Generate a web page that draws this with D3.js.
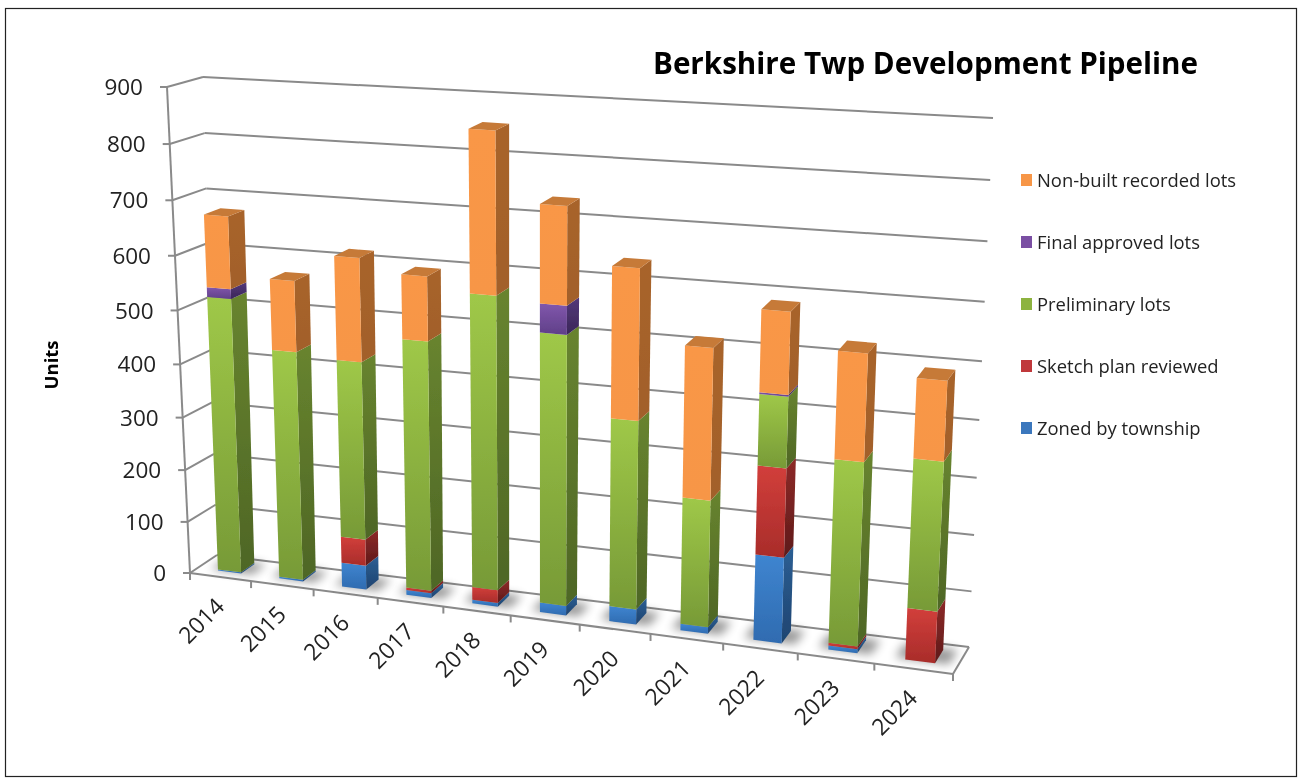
<!DOCTYPE html>
<html>
<head>
<meta charset="utf-8">
<script src="https://cdn.jsdelivr.net/npm/d3@7"></script>
<style>
  html, body { margin: 0; padding: 0; background: #fff; }
  svg { display: block; }
  text { font-family: "Open Sans", sans-serif; fill: #222; }
</style>
</head>
<body>
<svg id="chart" width="1299" height="779"></svg>
<script>
//chart data
const years = ["2014","2015","2016","2017","2018","2019","2020","2021","2022","2023","2024"];
const zoned = [2, 3, 46, 9, 7, 18, 28, 12, 155, 7, 0];
const sketch = [0, 0, 50, 5, 24, 0, 0, 0, 158, 5, 92];
const prelim = [519, 431, 331, 462, 537, 492, 342, 230, 125, 326, 261];
const finalLots = [18, 0, 0, 0, 0, 51, 0, 0, 3, 0, 0];
const nonBuilt = [132, 130, 188, 116, 285, 172, 266, 268, 142, 186, 137];
const seriesNames = ["Zoned by township", "Sketch plan reviewed", "Preliminary lots", "Final approved lots", "Non-built recorded lots"];
const valueTicks = [0, 100, 200, 300, 400, 500, 600, 700, 800, 900];

const rows = years.map((y, i) => ({
    year: y,
    [seriesNames[0]]: zoned[i],
    [seriesNames[1]]: sketch[i],
    [seriesNames[2]]: prelim[i],
    [seriesNames[3]]: finalLots[i],
    [seriesNames[4]]: nonBuilt[i]
}));

//face colours per series: front top, front bottom, side top, side bottom
const faceColors = {
    "Zoned by township": ["#3F85D0", "#2F6BB0", "#2C5F94", "#1E4470"],
    "Sketch plan reviewed": ["#D23F3B", "#A82C2A", "#8E2A28", "#5E1A1A"],
    "Preliminary lots": ["#9FC848", "#779A37", "#68842F", "#4E6625"],
    "Final approved lots": ["#8157AC", "#5F3F88", "#54397A", "#3A2659"],
    "Non-built recorded lots": ["#F99747", "#F79646", "#A8642B", "#A2602A"]
};
const swatchColors = ["#F79646", "#7A4FA3", "#8DB33F", "#C0393B", "#3A77BD"];

//the box of the 3D plot on screen: f = front, b = back, l/r = left/right, d/u = floor/top
const box = {
    fld: [190, 573], frd: [953, 674], bld: [217, 555], brd: [969, 647],
    flu: [167, 87], fru: [978, 136], blu: [203, 77], bru: [993, 118]
};
const wx = 0.87, wy = 0.94;   //perspective pull along the width and the height

//x and value go through d3 scales into 0..1, then the box turns them into pixels
const x = d3.scaleBand().domain(years).range([0.0022, 1.0022]).paddingInner(0.62).paddingOuter(0.31);
const xStep = d3.scaleLinear().domain([0, years.length]).range([0, 1]);
const y = d3.scaleLinear().domain([0, 900]).range([0, 1]);
const zFront = 0.29, zBack = 0.79;

function mix(a, b, t) { return [a[0] + (b[0] - a[0]) * t, a[1] + (b[1] - a[1]) * t]; }
function project(px, py, pz) {
    const fx = px * wx / (1 + px * (wx - 1));
    const fy = py * wy / (1 + py * (wy - 1));
    const down = mix(mix(box.fld, box.frd, fx), mix(box.bld, box.brd, fx), pz);
    const up = mix(mix(box.flu, box.fru, fx), mix(box.blu, box.bru, fx), pz);
    return mix(down, up, fy);
}

const svg = d3.select("#chart");
const defs = svg.append("defs");
defs.append("filter").attr("id", "soft").attr("x", "-5%").attr("y", "-5%").attr("width", "110%").attr("height", "110%")
    .append("feGaussianBlur").attr("stdDeviation", 0.45);
defs.append("filter").attr("id", "shadow").attr("x", "-50%").attr("y", "-100%").attr("width", "200%").attr("height", "300%")
    .append("feGaussianBlur").attr("stdDeviation", 5);

function addGradient(id, top, bottom) {
    const g = defs.append("linearGradient").attr("id", id).attr("x1", 0).attr("y1", 0).attr("x2", 0).attr("y2", 1);
    g.append("stop").attr("offset", 0).attr("stop-color", top);
    g.append("stop").attr("offset", 1).attr("stop-color", bottom);
}
seriesNames.forEach((name, i) => {
    const c = faceColors[name];
    addGradient("front" + i, c[0], c[1]);
    addGradient("side" + i, c[2], c[3]);
});

//outer frame
svg.append("rect")
    .attr("x", 5.5).attr("y", 8.5).attr("width", 1291).attr("height", 768)
    .attr("fill", "#fff").attr("stroke", "#222").attr("stroke-width", 1.2);

const plot = svg.append("g").attr("filter", "url(#soft)");
const path = pts => "M" + pts.map(p => p.join(",")).join("L") + "Z";
const gridColor = "#8a8a8a";

function segment(a, b) {
    plot.append("line")
        .attr("x1", a[0]).attr("y1", a[1]).attr("x2", b[0]).attr("y2", b[1])
        .attr("stroke", gridColor).attr("stroke-width", 2);
}

//gridlines on side wall and back wall, with value labels
valueTicks.forEach(v => {
    const a = project(0, y(v), 0), b = project(0, y(v), 1), c = project(1, y(v), 1);
    segment(a, b);
    segment(b, c);
    segment([a[0] - 7, a[1]], a);
    plot.append("text")
        .attr("x", a[0] - 24 + 0).attr("y", a[1])
        .attr("text-anchor", "end").attr("dy", "0.36em")
        .style("font-size", "22.5px")
        .text(v);
});

//value axis, floor edges
segment(project(0, 0, 0), project(0, 1, 0));
segment(project(0, 0, 0), project(1, 0, 0));
segment(project(1, 0, 0), project(1, 0, 1));

//category ticks and rotated labels
d3.range(years.length + 1).forEach(i => {
    const a = project(xStep(i), 0, 0);
    segment(a, [a[0], a[1] + 7]);
});
years.forEach((yr, i) => {
    const a = project(xStep(i + 0.5), 0, 0);
    plot.append("text")
        .attr("transform", `translate(${a[0] - 0.5},${a[1] + 25}) rotate(-45)`)
        .attr("text-anchor", "end").attr("dy", "0.36em")
        .style("font-size", "23px")
        .text(yr);
});

//soft shadows under the bars
years.forEach(yr => {
    const x0 = x(yr), x1 = x0 + x.bandwidth();
    plot.append("path")
        .attr("d", path([project(x0 - 0.012, 0, zFront + 0.02), project(x1 + 0.016, 0, zFront + 0.02), project(x1 + 0.016, 0, zBack + 0.06), project(x0 - 0.012, 0, zBack + 0.06)]))
        .attr("fill", "#000").attr("opacity", 0.4).attr("filter", "url(#shadow)");
});

//stacked bars
const stacked = d3.stack().keys(seriesNames)(rows);
years.forEach((yr, r) => {
    const x0 = x(yr), x1 = x0 + x.bandwidth();
    let last = null;
    stacked.forEach((layer, s) => {
        const y0 = y(layer[r][0]), y1 = y(layer[r][1]);
        if (y1 <= y0) return;
        last = { s, y1 };
        plot.append("path")
            .attr("d", path([project(x1, y0, zFront), project(x1, y0, zBack), project(x1, y1, zBack), project(x1, y1, zFront)]))
            .attr("fill", `url(#side${s})`);
        plot.append("path")
            .attr("d", path([project(x0, y0, zFront), project(x1, y0, zFront), project(x1, y1, zFront), project(x0, y1, zFront)]))
            .attr("fill", `url(#front${s})`);
    });
    plot.append("path")
        .attr("d", path([project(x0, last.y1, zFront), project(x1, last.y1, zFront), project(x1, last.y1, zBack), project(x0, last.y1, zBack)]))
        .attr("fill", "#C67A38");
});

//title and axis title
plot.append("text")
    .attr("x", 653).attr("y", 74)
    .style("font-size", "29.6px").style("font-weight", 700).style("fill", "#000")
    .text("Berkshire Twp Development Pipeline");
plot.append("text")
    .attr("transform", "translate(58,365) rotate(-90)")
    .attr("text-anchor", "middle")
    .style("font-size", "18.5px").style("font-weight", 700).style("fill", "#000")
    .text("Units");

//legend, top to bottom is the reverse of the stack
const legendY = d3.scalePoint().domain(seriesNames.slice().reverse()).range([180, 428]);
seriesNames.slice().reverse().forEach((name, i) => {
    plot.append("rect")
        .attr("x", 1021).attr("y", legendY(name) - 6).attr("width", 11).attr("height", 12)
        .attr("fill", swatchColors[i]);
    plot.append("text")
        .attr("x", 1037).attr("y", legendY(name))
        .attr("dy", "0.36em")
        .style("font-size", "18.4px")
        .text(name);
});
</script>
</body>
</html>
